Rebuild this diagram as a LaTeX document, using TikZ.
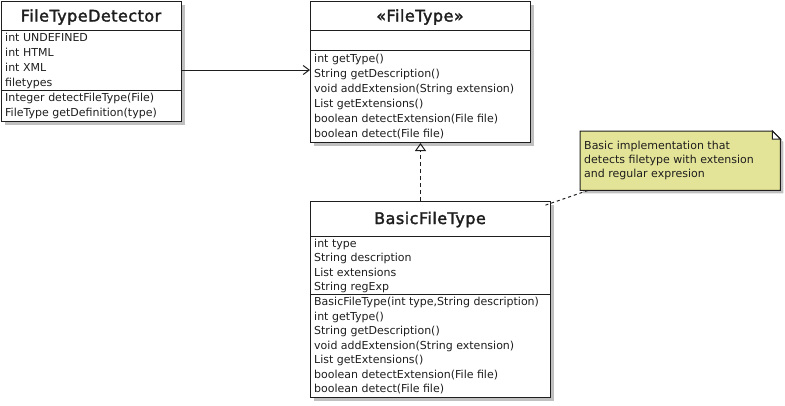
\documentclass[tikz,border=0pt]{standalone}
\usepackage{fontspec}
\setmainfont{DejaVu Sans}
\newfontfamily\titlefont[FakeBold=2,LetterSpace=3]{DejaVu Sans}
\usetikzlibrary{arrows.meta,calc}
\definecolor{shadowgray}{RGB}{192,192,192}
\definecolor{notefill}{RGB}{228,228,152}
\definecolor{inkcol}{RGB}{30,30,30}
\tikzset{
  classbox/.style={draw=inkcol, line width=1pt, fill=white, rectangle, inner sep=0pt, anchor=north west,
    preaction={draw=none, fill=shadowgray, transform canvas={xshift=3pt, yshift=-3pt}}},
  sepline/.style={draw=inkcol, line width=1pt},
  titletext/.style={font=\titlefont\fontsize{16}{18}\selectfont, anchor=base, inner sep=0pt, text=inkcol},
  rowtext/.style={font=\fontsize{11}{13}\selectfont, anchor=base west, inner sep=0pt, text=inkcol},
  notetext/.style={font=\fontsize{11}{13}\selectfont, anchor=base west, inner sep=0pt, text=inkcol},
  assoc/.style={draw=inkcol, line width=1pt, -{Straight Barb[length=6pt,width=9pt,line width=1pt]}},
  realize/.style={draw=inkcol, line width=1pt, dash pattern=on 4pt off 3pt, -{Triangle[open,length=8pt,width=11pt,line width=1pt]}},
  noteline/.style={draw=inkcol, line width=1pt, dash pattern=on 3pt off 3pt},
}
\begin{document}
\begin{tikzpicture}[x=1pt,y=-1pt]
\useasboundingbox (0,0) rectangle (785,405);

% ---------- FileTypeDetector ----------
\node[classbox, minimum width=180pt, minimum height=120pt] (ftd) at (1,1) {};
\draw[sepline] (1,30) -- (181,30);
\draw[sepline] (1,90) -- (181,90);
\node[titletext] (ftdt) at (91,21.5) {FileTypeDetector};
\node[rowtext] (ftda1) at (5,41.5) {int UNDEFINED};
\node[rowtext] (ftda2) at (5,56.5) {int HTML};
\node[rowtext] (ftda3) at (5,71.5) {int XML};
\node[rowtext] (ftda4) at (5,86.5) {filetypes};
\node[rowtext] (ftdm1) at (5,101.5) {Integer detectFileType(File)};
\node[rowtext] (ftdm2) at (5,116.5) {FileType getDefinition(type)};

% ---------- FileType ----------
\node[classbox, minimum width=220pt, minimum height=141pt] (ft) at (310,1) {};
\draw[sepline] (310,30) -- (530,30);
\draw[sepline] (310,50.5) -- (530,50.5);
\node[titletext] (ftt) at (420,21.5) {«FileType»};
\node[rowtext] (ftm1) at (314,62) {int getType()};
\node[rowtext] (ftm2) at (314,77) {String getDescription()};
\node[rowtext] (ftm3) at (314,92) {void addExtension(String extension)};
\node[rowtext] (ftm4) at (314,107) {List getExtensions()};
\node[rowtext] (ftm5) at (314,122) {boolean detectExtension(File file)};
\node[rowtext] (ftm6) at (314,137) {boolean detect(File file)};

% ---------- BasicFileType ----------
\node[classbox, minimum width=240pt, minimum height=196pt] (bft) at (310,201) {};
\draw[sepline] (310,236) -- (550,236);
\draw[sepline] (310,294.5) -- (550,294.5);
\node[titletext] (bftt) at (430,224) {BasicFileType};
\node[rowtext] (bfta1) at (314,247) {int type};
\node[rowtext] (bfta2) at (314,261.5) {String description};
\node[rowtext] (bfta3) at (314,276) {List extensions};
\node[rowtext] (bfta4) at (314,290.5) {String regExp};
\node[rowtext] (bftm1) at (314,305.5) {BasicFileType(int type,String description)};
\node[rowtext] (bftm2) at (314,320) {int getType()};
\node[rowtext] (bftm3) at (314,334.5) {String getDescription()};
\node[rowtext] (bftm4) at (314,349) {void addExtension(String extension)};
\node[rowtext] (bftm5) at (314,363.5) {List getExtensions()};
\node[rowtext] (bftm6) at (314,378) {boolean detectExtension(File file)};
\node[rowtext] (bftm7) at (314,392.5) {boolean detect(File file)};

% ---------- Note ----------
\node[rectangle, minimum width=200pt, minimum height=59pt, inner sep=0pt, anchor=north west] (note) at (580,131) {};
\fill[shadowgray] ($(note.north west)+(3,3)$) -- ($(note.north east)+(-5,3)$) -- ($(note.north east)+(3,11)$) -- ($(note.south east)+(3,3)$) -- ($(note.south west)+(3,3)$) -- cycle;
\draw[draw=inkcol, line width=1pt, fill=notefill] (note.north west) -- ($(note.north east)+(-8,0)$) -- ($(note.north east)+(0,8)$) -- (note.south east) -- (note.south west) -- cycle;
\draw[draw=inkcol, line width=1pt, fill=white] ($(note.north east)+(-8,0)$) -- ($(note.north east)+(-8,8)$) -- ($(note.north east)+(0,8)$) -- cycle;
\node[notetext] (n1) at (584,149) {Basic implementation that};
\node[notetext] (n2) at (584,163) {detects filetype with extension};
\node[notetext] (n3) at (584,177) {and regular expresion};

% ---------- Connectors ----------
\draw[assoc] (ftd.east |- 0,70) -- (ft.west |- 0,70);
\draw[realize] (ft.south |- bft.north) -- (ft.south);
\draw[noteline] ($(note.south west)+(8,0)$) -- ($(bft.north east)+(-8,5)$);
\end{tikzpicture}
\end{document}
